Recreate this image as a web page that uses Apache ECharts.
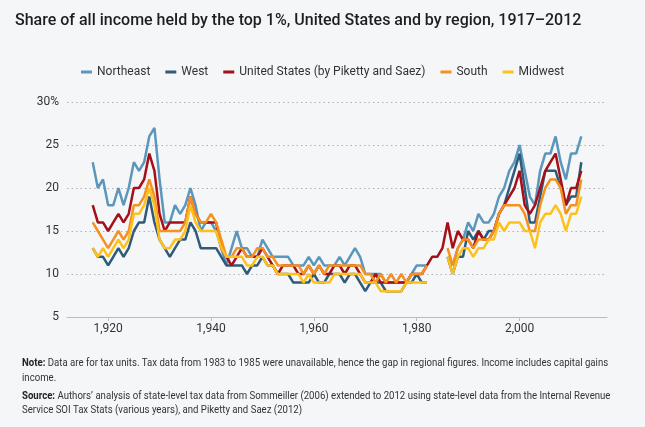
<!DOCTYPE html>
<html>
<head>
<meta charset="utf-8">
<script src="https://cdn.jsdelivr.net/npm/echarts@6/dist/echarts.min.js"></script>
<style>
html,body{margin:0;padding:0;background:#f5f6f8;}
#chart{width:645px;height:427px;}
</style>
</head>
<body>
<div id="chart"></div>
<script>
const years = Array.from({length: 96}, (_, i) => 1917 + i);
const xTicks = [1920, 1940, 1960, 1980, 2000];

const northeast = [
  23,20,21,18,18,20,18,20,23,22,
  23,26,27,21,16,16,18,17,18,20,
  18,15,16,16,15,13,11,13,15,13,
  13,12,12,14,13,12,12,12,12,11,
  11,11,12,11,12,11,11,11,12,11,
  12,13,12,10,10,10,10,9,9,9,
  9,9,10,11,11,11,null,null,null,12,
  11,13,14,16,15,17,16,16,17,19,
  20,22,23,25,22,19,18,22,24,24,
  26,23,21,24,24,26
];
const west = [
  13,12,12,11,12,13,12,13,15,16,
  16,19,16,14,13,12,13,14,14,16,
  15,13,13,13,13,12,11,11,11,11,
  10,11,11,12,11,11,10,10,10,9,
  9,9,9,10,9,9,10,10,10,9,
  10,10,9,8,9,9,9,8,8,8,
  8,9,9,10,9,9,null,null,null,12,
  10,12,12,15,14,15,14,15,15,17,
  18,20,22,24,20,16,16,19,22,22,
  22,20,18,19,19,23
];
const unitedStates = [
  18,16,16,15,16,17,16,17,20,20,
  21,24,22,17,15,16,16,16,16,19,
  17,16,16,16,16,13,12,11,12,13,
  12,12,12,13,12,11,10,11,11,11,
  10,10,11,10,11,10,10,11,11,10,
  11,11,10,9,9,10,9,9,9,9,
  9,9,10,10,10,11,12,12,13,16,
  13,15,14,14,13,15,14,14,15,17,
  18,19,20,22,18,17,18,20,22,23,
  24,21,18,20,20,22
];
const south = [
  16,15,14,13,14,15,14,15,18,18,
  19,21,19,15,15,15,15,15,16,19,
  17,16,16,17,16,14,12,12,13,13,
  12,12,13,13,12,12,11,11,11,11,
  11,10,11,10,11,10,11,11,11,11,
  11,11,11,10,10,9,10,9,10,9,
  10,9,10,10,10,11,null,null,null,13,
  11,13,14,14,13,14,14,14,15,17,
  18,18,18,18,17,15,15,18,20,21,
  21,20,17,18,18,21
];
const midwest = [
  13,12,13,12,13,14,13,14,17,17,
  18,20,18,14,13,13,14,14,15,18,
  16,15,15,15,15,13,12,12,12,12,
  11,11,12,12,11,11,10,10,10,10,
  10,9,10,9,9,9,9,10,10,10,
  10,10,10,9,9,9,8,8,8,8,
  8,9,9,9,9,9,null,null,null,12,
  10,12,13,13,12,13,13,14,14,16,
  15,16,16,16,15,15,13,16,17,17,
  18,17,15,17,17,19
];

const seriesDefs = [
  {name: 'Northeast', data: northeast, color: '#5b96bb'},
  {name: 'West', data: west, color: '#2f5b7a'},
  {name: 'United States (by Piketty and Saez)', data: unitedStates, color: '#a50f17'},
  {name: 'South', data: south, color: '#f5911f'},
  {name: 'Midwest', data: midwest, color: '#fcc21b'}
];

const FONT = 'Roboto, "Noto Sans", sans-serif';

const chart = echarts.init(document.getElementById('chart'), null, {renderer: 'canvas'});
chart.setOption({
  backgroundColor: '#f5f6f8',
  animation: false,
  textStyle: {fontFamily: FONT},
  title: {
    text: 'Share of all income held by the top 1%, United States and by region, 1917\u20132012',
    left: 10, top: 8,
    textStyle: {fontSize: 16, fontWeight: 500, color: '#1e1e1e', fontFamily: FONT}
  },
  legend: {
    left: 76, top: 61,
    itemWidth: 11, itemHeight: 3, itemGap: 15,
    icon: 'rect',
    textStyle: {fontSize: 12, color: '#333', fontFamily: FONT},
    data: seriesDefs.map(s => s.name)
  },
  grid: {left: 67, right: 38, top: 102, bottom: 110},
  xAxis: {
    type: 'value', min: 1912, max: 2017,
    axisLine: {lineStyle: {color: '#b9bcc0', width: 1}},
    axisTick: {show: true, length: 4, lineStyle: {color: '#b9bcc0'}, customValues: xTicks},
    axisLabel: {customValues: xTicks, color: '#333', fontSize: 12, margin: 6, fontFamily: FONT},
    splitLine: {show: false}
  },
  yAxis: {
    type: 'value', min: 5, max: 30, interval: 5,
    axisLine: {show: false}, axisTick: {show: false},
    axisLabel: {color: '#333', fontSize: 12, margin: 8, fontFamily: FONT,
      formatter: v => (v === 30 ? v + '%' : String(v))},
    splitLine: {show: true, lineStyle: {color: '#aeb1b5', type: [1.5, 3], width: 1}}
  },
  series: seriesDefs.map(s => ({
    name: s.name, type: 'line', symbol: 'none', connectNulls: false,
    color: s.color,
    lineStyle: {width: 2.5, color: s.color},
    data: years.map((y, i) => [y, s.data[i]])
  })),
  graphic: [
    {type: 'text', x: 22, y: 356, scaleX: 0.915, style: {
      text: '{b|Note:} Data are for tax units. Tax data from 1983 to 1985 were unavailable, hence the gap in regional figures. Income includes capital gains\nincome.',
      fontSize: 10.5, lineHeight: 15, fill: '#333', fontFamily: FONT,
      rich: {b: {fontWeight: 'bold', fontSize: 10.5, fill: '#222', fontFamily: FONT}}
    }},
    {type: 'text', x: 22, y: 389, scaleX: 0.915, style: {
      text: '{b|Source:} Authors\u2019 analysis of state-level tax data from Sommeiller (2006) extended to 2012 using state-level data from the Internal Revenue\nService SOI Tax Stats (various years), and Piketty and Saez (2012)',
      fontSize: 10.5, lineHeight: 14, fill: '#333', fontFamily: FONT,
      rich: {b: {fontWeight: 'bold', fontSize: 10.5, fill: '#222', fontFamily: FONT}}
    }}
  ]
});
</script>
</body>
</html>
